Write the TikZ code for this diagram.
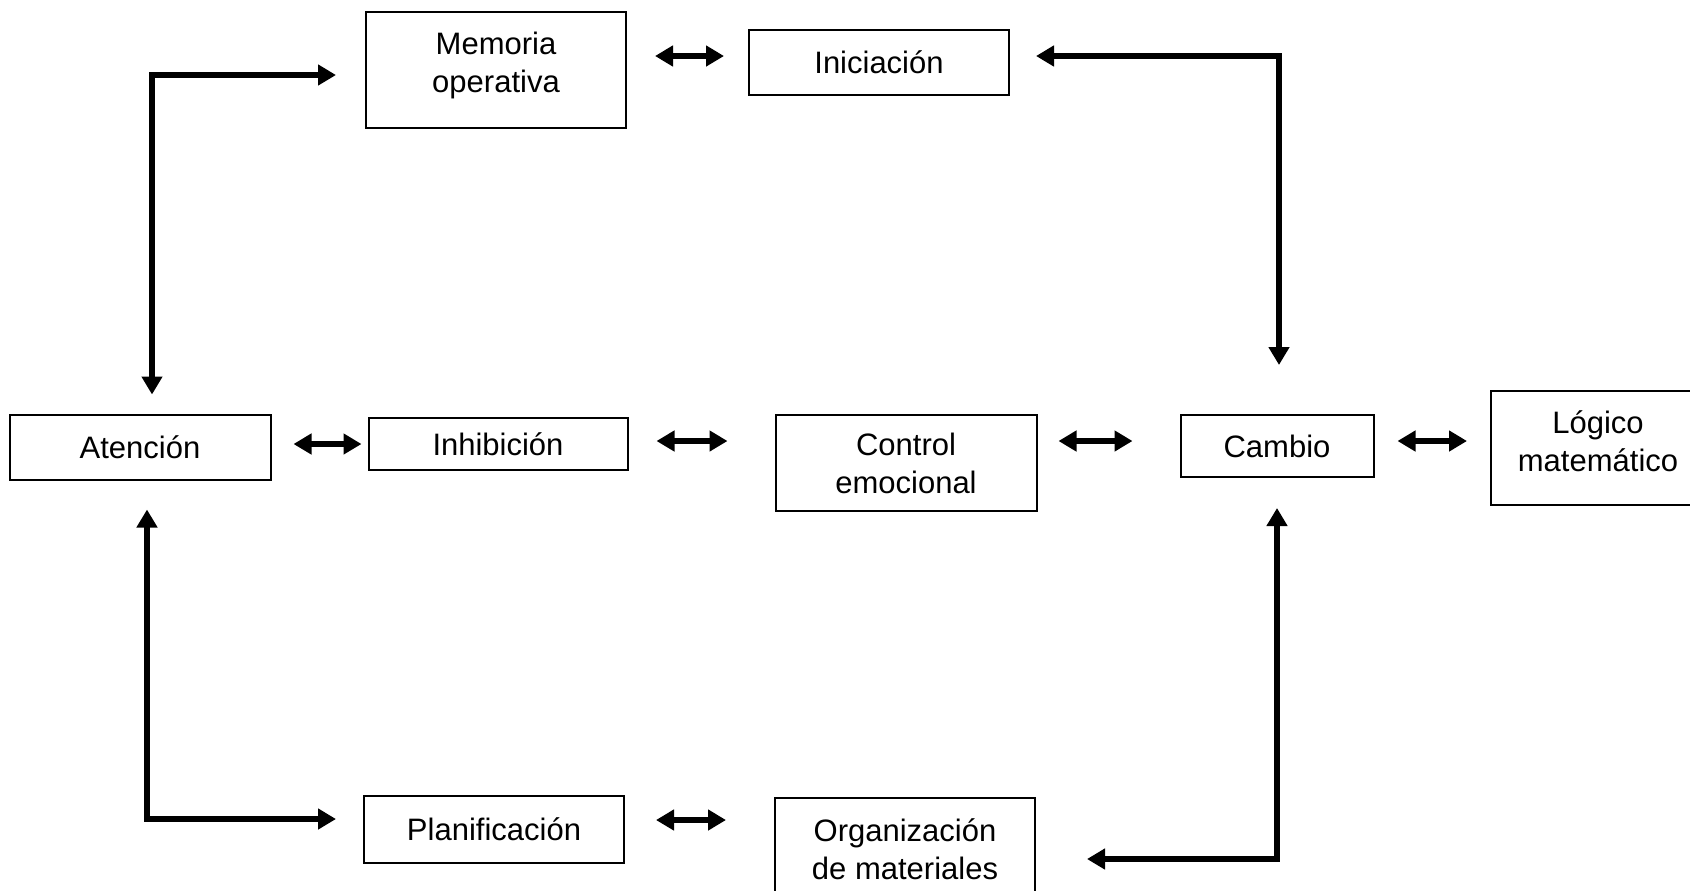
\documentclass[tikz,border=0pt]{standalone}
\usepackage{fontspec}
\setmainfont{Liberation Sans}
\usetikzlibrary{arrows.meta,calc}
\newlength\upx
\setlength\upx{0.5pt}
\begin{document}
\begin{tikzpicture}[x=0.5pt,y=-0.5pt,
  box/.style={draw,line width=1pt,align=center,inner sep=0pt,
    font=\fontsize{15.5}{19}\selectfont},
  link/.style={line width=2.7pt,
    {Triangle[length=9pt,width=10pt]}-{Triangle[length=9pt,width=10pt]}},
]
\useasboundingbox (0,0) rectangle (1690,890);
\clip (0,0) rectangle (1690,890);

% boxes (a deep strut lifts the text in the two taller boxes)
\node[box,minimum width=260\upx,minimum height=116\upx] (mem) at (496,70) {Memoria\\operativa\rule[-7.5pt]{0pt}{1pt}};
\node[box,minimum width=260\upx,minimum height=65\upx]  (ini) at (879,62.5) {Iniciación};
\node[box,minimum width=261\upx,minimum height=65\upx]  (att) at (140,447) {Atención};
\node[box,minimum width=259\upx,minimum height=52\upx]  (inh) at (498,444) {Inhibición};
\node[box,minimum width=261\upx,minimum height=96\upx]  (ctl) at (906,463) {Control\\emocional};
\node[box,minimum width=193\upx,minimum height=62\upx]  (cam) at (1277,446) {Cambio};
\node[box,minimum width=214\upx,minimum height=114\upx] (log) at (1598,448) {Lógico\\matemático\rule[-6.5pt]{0pt}{1pt}};
\node[box,minimum width=260\upx,minimum height=67\upx]  (plan) at (494,829) {Planificación};
\node[box,minimum width=260\upx,minimum height=102\upx] (org) at (905,849) {Organización\\de materiales};

% connectors
\draw[link] ($(mem.east)+(28,-14)$) -- ($(ini.west)+(-24,-6.5)$);
\draw[link] ($(ini.east)+(26,-6.5)$) -| ($(cam.north)+(2,-49)$);
\draw[link] ($(att.north)+(12,-19)$) |- ($(mem.west)+(-29,5)$);
\draw[link] ($(att.east)+(22,-3)$) -- ($(inh.west)+(-6,0)$);
\draw[link] ($(inh.east)+(28,-3)$) -- ($(ctl.west)+(-47,-22)$);
\draw[link] ($(ctl.east)+(21,-22)$) -- ($(cam.west)+(-47,-5)$);
\draw[link] ($(cam.east)+(23,-5)$) -- ($(log.west)+(-23,-7)$);
\draw[link] ($(att.south)+(7,29)$) |- ($(plan.west)+(-27,-10)$);
\draw[link] ($(plan.east)+(31,-9)$) -- ($(org.west)+(-48,-29)$);
\draw[link] ($(cam.south)+(0,30)$) |- ($(org.east)+(51,10)$);
\end{tikzpicture}
\end{document}
